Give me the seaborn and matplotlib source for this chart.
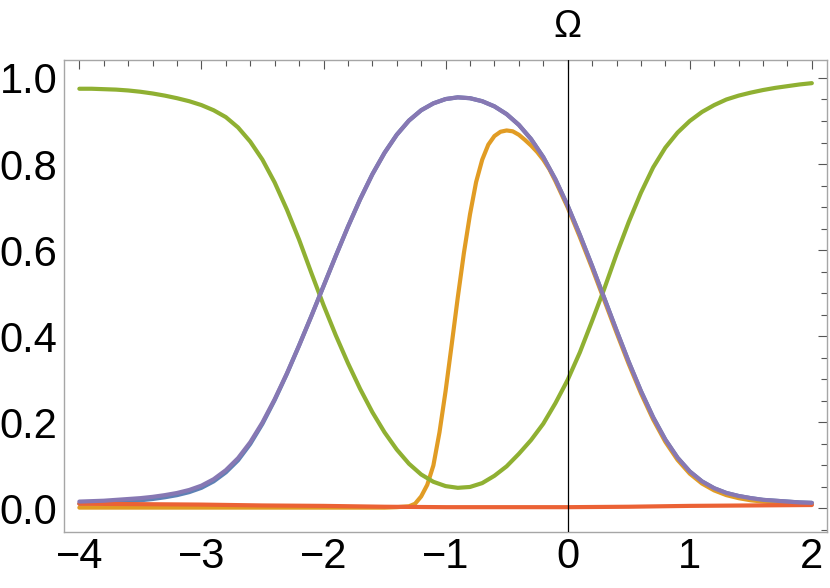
import seaborn as sns
import matplotlib.pyplot as plt
from matplotlib.ticker import MultipleLocator

sns.set_theme(style="white")
plt.rcParams['font.family'] = ['Liberation Sans', 'DejaVu Sans']

# x samples
x_grid = [-4.0, -3.9, -3.8, -3.7, -3.6, -3.5, -3.4, -3.3, -3.2, -3.1,
          -3.0, -2.9, -2.8, -2.7, -2.6, -2.5, -2.4, -2.3, -2.2, -2.1,
          -2.0, -1.9, -1.8, -1.7, -1.6, -1.5, -1.4, -1.3, -1.2, -1.1,
          -1.0, -0.9, -0.8, -0.7, -0.6, -0.5, -0.4, -0.3, -0.2, -0.1,
          0.0, 0.1, 0.2, 0.3, 0.4, 0.5, 0.6, 0.7, 0.8, 0.9,
          1.0, 1.1, 1.2, 1.3, 1.4, 1.5, 1.6, 1.7, 1.8, 1.9, 2.0]

purple = [0.015, 0.016, 0.017, 0.019, 0.021, 0.023, 0.026, 0.030, 0.035, 0.042,
          0.052, 0.067, 0.088, 0.116, 0.153, 0.199, 0.253, 0.313, 0.378, 0.446,
          0.516, 0.586, 0.654, 0.718, 0.776, 0.826, 0.868, 0.901, 0.925, 0.941,
          0.951, 0.955, 0.953, 0.946, 0.934, 0.916, 0.891, 0.858, 0.816, 0.764,
          0.703, 0.635, 0.563, 0.488, 0.413, 0.340, 0.272, 0.211, 0.159, 0.117,
          0.085, 0.062, 0.046, 0.035, 0.028, 0.023, 0.019, 0.017, 0.015, 0.013, 0.012]

blue = [0.010, 0.011, 0.012, 0.014, 0.016, 0.018, 0.021, 0.025, 0.030, 0.037,
        0.047, 0.062, 0.083, 0.111, 0.149, 0.196, 0.251, 0.312, 0.378, 0.446,
        0.516, 0.586, 0.654, 0.718, 0.776, 0.826, 0.868, 0.901, 0.925, 0.941,
        0.951, 0.955, 0.953, 0.946, 0.934, 0.916, 0.891, 0.858, 0.816, 0.764,
        0.703, 0.635, 0.563, 0.488, 0.413, 0.340, 0.272, 0.211, 0.159, 0.117,
        0.085, 0.062, 0.046, 0.035, 0.028, 0.023, 0.019, 0.017, 0.015, 0.013, 0.012]

green = [0.975, 0.975, 0.974, 0.973, 0.971, 0.968, 0.964, 0.959, 0.953, 0.946,
         0.937, 0.925, 0.909, 0.885, 0.852, 0.810, 0.757, 0.694, 0.624, 0.547,
         0.472, 0.402, 0.337, 0.277, 0.223, 0.176, 0.136, 0.103, 0.078, 0.061,
         0.051, 0.047, 0.049, 0.058, 0.075, 0.097, 0.126, 0.158, 0.196, 0.244,
         0.298, 0.362, 0.435, 0.510, 0.590, 0.665, 0.733, 0.792, 0.838, 0.873,
         0.900, 0.921, 0.937, 0.950, 0.959, 0.966, 0.972, 0.977, 0.981, 0.985, 0.988]

orange_x = [-4.0, -3.5, -3.0, -2.5, -2.0, -1.5, -1.4, -1.3, -1.25, -1.2,
            -1.15, -1.1, -1.05, -1.0, -0.95, -0.9, -0.85, -0.8, -0.75, -0.7,
            -0.65, -0.6, -0.55, -0.5, -0.45, -0.4, -0.35, -0.3, -0.25, -0.2,
            -0.15, -0.1, 0.0, 0.1, 0.2, 0.3, 0.4, 0.5, 0.6, 0.7, 0.8,
            0.9, 1.0, 1.1, 1.2, 1.3, 1.4, 1.5, 1.6, 1.7, 1.8, 1.9, 2.0]
orange = [0.001, 0.001, 0.001, 0.001, 0.001, 0.001, 0.002, 0.004, 0.010, 0.027,
          0.054, 0.099, 0.176, 0.272, 0.380, 0.490, 0.593, 0.683, 0.758, 0.810,
          0.845, 0.865, 0.875, 0.878, 0.876, 0.868, 0.856, 0.843, 0.828, 0.810,
          0.788, 0.760, 0.699, 0.630, 0.558, 0.483, 0.408, 0.335, 0.267, 0.206,
          0.154, 0.112, 0.080, 0.057, 0.041, 0.030, 0.023, 0.018, 0.015, 0.013,
          0.011, 0.010, 0.009]

red_x = [-4.0, -3.5, -3.0, -2.5, -2.0, -1.5, -1.0, -0.5, 0.0, 0.5, 1.0, 1.5, 2.0]
red = [0.010, 0.009, 0.008, 0.006, 0.005, 0.003, 0.002, 0.002, 0.002, 0.003, 0.005, 0.006, 0.007]

colors = {
    "blue": "#5E81B5",
    "orange": "#E19C24",
    "green": "#8FB032",
    "red": "#EB6235",
    "purple": "#8778B3",
}

fig = plt.figure(figsize=(8.3, 5.88), dpi=100)
ax = fig.add_axes([0.0775, 0.0957, 0.919, 0.8023])

lw = 3.0
sns.lineplot(x=x_grid, y=blue, color=colors["blue"], lw=lw, ax=ax, estimator=None)
sns.lineplot(x=orange_x, y=orange, color=colors["orange"], lw=lw, ax=ax, estimator=None)
sns.lineplot(x=x_grid, y=green, color=colors["green"], lw=lw, ax=ax, estimator=None)
sns.lineplot(x=red_x, y=red, color=colors["red"], lw=lw, ax=ax, estimator=None)
sns.lineplot(x=x_grid, y=purple, color=colors["purple"], lw=lw, ax=ax, estimator=None)

ax.axvline(0, color="black", lw=0.9, zorder=5)
ax.text(0, 1.095, "Ω", ha="center", va="baseline", fontsize=27, color="black",
        clip_on=False)

ax.set_xlim(-4.123, 2.125)
ax.set_ylim(-0.0551, 1.0419)
ax.xaxis.set_major_locator(MultipleLocator(1))
ax.xaxis.set_minor_locator(MultipleLocator(0.2))
ax.yaxis.set_major_locator(MultipleLocator(0.2))
ax.yaxis.set_minor_locator(MultipleLocator(0.05))
ax.yaxis.set_major_formatter(plt.FuncFormatter(lambda v, p: f"{v:.1f}"))

for s in ax.spines.values():
    s.set_color("#a6a6a6")
    s.set_linewidth(1.0)

ax.tick_params(which="both", direction="in", top=True, right=True, color="#555555",
               width=0.8)
ax.tick_params(which="major", length=6.5, labelsize=30, pad=4, labelcolor="black")
ax.tick_params(which="minor", length=4)
ax.tick_params(axis="y", which="major", pad=5)
ax.set_xlabel("")
ax.set_ylabel("")
ax.grid(False)

plt.savefig("out.png", dpi=100)
